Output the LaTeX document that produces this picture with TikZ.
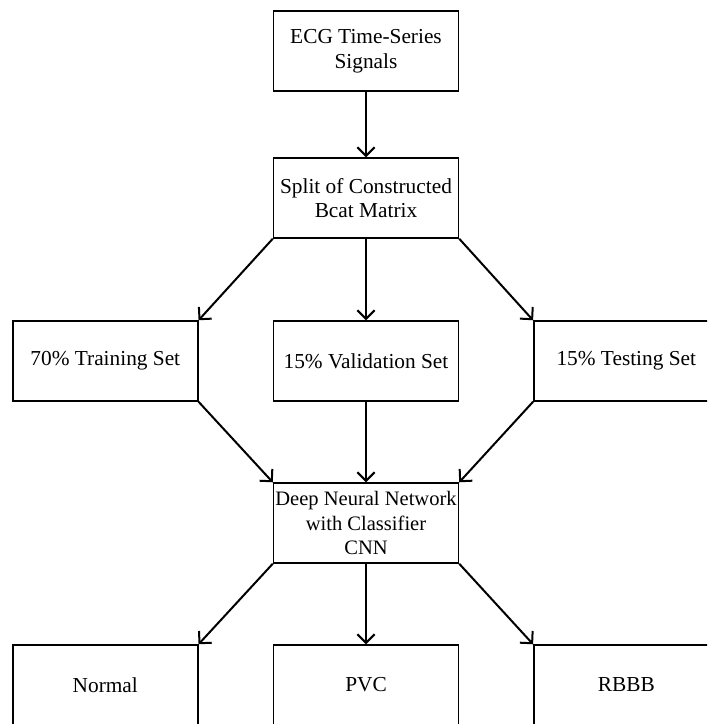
\documentclass[tikz,border=0pt]{standalone}
\usepackage{fontspec}
\setmainfont{Liberation Serif}
\usetikzlibrary{arrows.meta}
\begin{document}
\begin{tikzpicture}[x=0.75pt,y=-0.75pt,
  box/.style={draw, line width=1.1pt, minimum width=138.75pt,
    minimum height=60pt, inner sep=0pt, align=center,
    font=\fontsize{16}{18.5}\selectfont},
  tightbox/.style={box, font=\fontsize{15.4}{18.5}\selectfont},
  arr/.style={line width=1.5pt, -{Straight Barb[length=6.5pt,width=13pt,line width=1.5pt]}}]
\useasboundingbox (0,0) rectangle (707,724);
\clip (0,0) rectangle (707,724);
% processing chain
\node[box] (ecg)   at (366,51)  {ECG Time-Series\\Signals};
\node[box] (split) at (366,198) {Split of Constructed\\Bcat Matrix};
% data split
\node[box] (train) at (105.3,361) {70\% Training Set};
\node[box] (valid) at (366,361)   {15\% Validation Set};
\node[box] (test)  at (626.3,361) {15\% Testing Set};
% classifier
\node[tightbox] (dnn) at (366,523) {Deep Neural Network\\with Classifier\\CNN};
% output classes
\node[box] (normal) at (105.3,685) {Normal};
\node[box] (pvc)    at (366,685)   {PVC};
\node[box] (rbbb)   at (626.3,685) {RBBB};
% connectors
\draw[arr] (ecg.south) -- (split.north);
\draw[arr] (split.south west) -- (train.north east);
\draw[arr] (split.south) -- (valid.north);
\draw[arr] (split.south east) -- (test.north west);
\draw[arr] (train.south east) -- (dnn.north west);
\draw[arr] (valid.south) -- (dnn.north);
\draw[arr] (test.south west) -- (dnn.north east);
\draw[arr] (dnn.south west) -- (normal.north east);
\draw[arr] (dnn.south) -- (pvc.north);
\draw[arr] (dnn.south east) -- (rbbb.north west);
\end{tikzpicture}
\end{document}
